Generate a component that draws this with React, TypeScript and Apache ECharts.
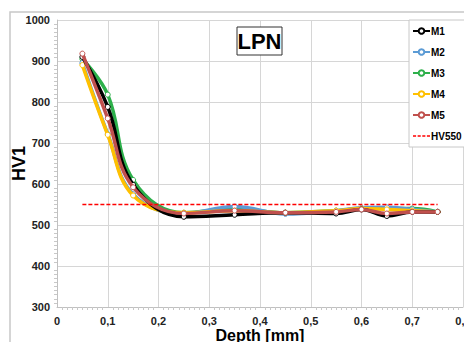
import React, { useEffect, useRef } from "react";
import * as echarts from "echarts";

const depths = [0.05, 0.1, 0.15, 0.25, 0.35, 0.45, 0.55, 0.6, 0.65, 0.7, 0.75];
const m1 = [910, 788, 598, 520, 525, 530, 528, 538, 522, 532, 532];
const m2 = [895, 722, 575, 528, 545, 527, 535, 542, 543, 538, 532];
const m3 = [905, 818, 610, 530, 540, 530, 535, 540, 540, 540, 532];
const m4 = [890, 720, 572, 530, 535, 530, 535, 540, 538, 535, 532];
const m5 = [918, 760, 592, 528, 535, 530, 532, 538, 528, 532, 532];
const hvDepths = [0.05, 0.75];
const hvValues = [550, 550];

const seriesNames = ["M1", "M2", "M3", "M4", "M5"];
const seriesValues = [m1, m2, m3, m4, m5];
const colors = ["#000000", "#5b9bd5", "#2db04b", "#ffc000", "#c0504d"];
const zOrder = [5, 3, 2, 4, 6];

export default function App() {
  const ref = useRef<HTMLDivElement>(null);
  useEffect(() => {
    if (!ref.current) return;
    const chart = echarts.init(ref.current, null, { renderer: "svg" });
    const font = "'Liberation Sans', Arial, sans-serif";
    const lines: any[] = seriesNames.map((name, i) => ({
      name,
      type: "line",
      smooth: 0.4,
      z: zOrder[i],
      data: depths.map((d, j) => [d, seriesValues[i][j]]),
      symbol: "circle",
      symbolSize: 5,
      lineStyle: { color: colors[i], width: 3.5 },
      itemStyle: { color: "#ffffff", borderColor: colors[i], borderWidth: 1 },
    }));
    lines.push({
      name: "HV550",
      type: "line",
      z: 7,
      data: hvDepths.map((d, j) => [d, hvValues[j]]),
      symbol: "none",
      lineStyle: { color: "#ff0000", width: 1.5, type: [4, 2] },
      itemStyle: { color: "#ff0000" },
    });
    chart.setOption({
      animation: false,
      textStyle: { fontFamily: font },
      grid: { left: 57, right: 1, top: 20, bottom: 35, outerBoundsMode: "none", containLabel: false },
      graphic: [
        {
          type: "rect",
          shape: { x: 10, y: 12, width: 470, height: 340 },
          style: { fill: "none", stroke: "#c8c8c8", lineWidth: 1.5 },
          z: 0,
        },
        {
          type: "rect",
          shape: { x: 237, y: 27, width: 45, height: 28 },
          style: { fill: "#ffffff", stroke: "#333333", lineWidth: 1 },
          z: 10,
        },
        {
          type: "text",
          x: 259.5,
          y: 41.5,
          style: {
            text: "LPN",
            fontSize: 22,
            fontWeight: "bold",
            fontFamily: font,
            fill: "#000000",
            align: "center",
            verticalAlign: "middle",
          },
          z: 11,
        },
      ],
      legend: {
        orient: "vertical",
        left: 409,
        top: 20,
        padding: [5, 3, 5, 3],
        itemGap: 9,
        itemWidth: 17,
        itemHeight: 7,
        borderColor: "#c8c8c8",
        borderWidth: 1,
        backgroundColor: "#ffffff",
        textStyle: { fontSize: 10, fontWeight: "bold", color: "#000", padding: [0, 0, 0, -4], lineHeight: 12 },
        data: [
          ...seriesNames,
          { name: "HV550", icon: "path://M0,0h3v1.5h-3zM4.5,0h3v1.5h-3zM9,0h3v1.5h-3zM13.5,0h3v1.5h-3z", itemStyle: { color: "#ff0000" } },
        ],
      },
      xAxis: {
        type: "value",
        min: 0,
        max: 0.8,
        interval: 0.1,
        name: "Depth [mm]",
        nameLocation: "middle",
        nameGap: 20,
        nameMoveOverlap: false,
        nameTextStyle: { fontSize: 16, fontWeight: "bold", color: "#000" },
        axisLine: { show: true, lineStyle: { color: "#c0c0c0" } },
        axisTick: { show: false },
        minorTick: { show: true, splitNumber: 10, length: 3, lineStyle: { color: "#c8c8c8" } },
        axisLabel: {
          fontSize: 11,
          fontWeight: "bold",
          color: "#222",
          margin: 8,
          formatter: (v: number) => String(Math.round(v * 10) / 10).replace(".", ","),
        },
        splitLine: { show: true, lineStyle: { color: "#d6d6d6" } },
      },
      yAxis: {
        type: "value",
        min: 300,
        max: 1000,
        interval: 100,
        name: "HV1",
        nameLocation: "middle",
        nameGap: 29,
        nameMoveOverlap: false,
        nameTextStyle: { fontSize: 18, fontWeight: "bold", color: "#000" },
        axisLine: { show: true, lineStyle: { color: "#c0c0c0" } },
        axisTick: { show: false },
        minorTick: { show: true, splitNumber: 10, length: 3, lineStyle: { color: "#c8c8c8" } },
        axisLabel: { fontSize: 11, fontWeight: "bold", color: "#222", margin: 7, formatter: (v: number) => String(v) },
        splitLine: { show: true, lineStyle: { color: "#d6d6d6" } },
      },
      series: lines,
    });
    return () => chart.dispose();
  }, []);
  return <div ref={ref} style={{ width: 464, height: 342, position: "absolute", left: 0, top: 0 }} />;
}
